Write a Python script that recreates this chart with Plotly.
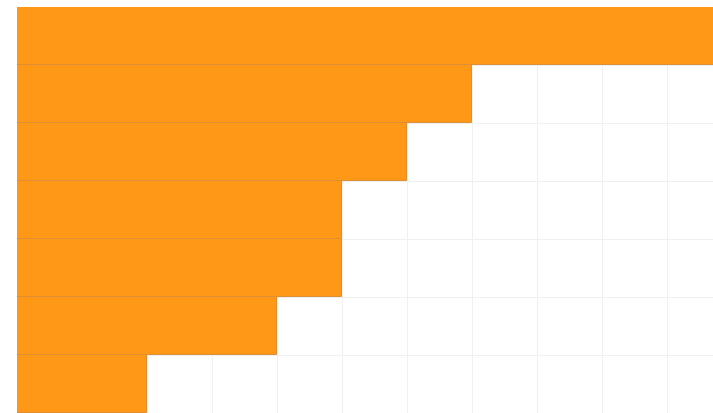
import plotly.graph_objects as go

categories = ["A", "B", "C", "D", "E", "F", "G"]
values = [12, 7, 6, 5, 5, 4, 2]

positions = list(range(len(categories)))

fig = go.Figure(
    go.Bar(
        x=values,
        y=positions,
        orientation="h",
        width=1,
        marker=dict(color="rgb(255,152,22)", line=dict(color="rgb(222,142,52)", width=1)),
        hoverinfo="x",
    )
)

fig.update_layout(
    width=713,
    height=413,
    margin=dict(l=17, r=0, t=7, b=0),
    paper_bgcolor="white",
    plot_bgcolor="white",
    bargap=0,
    showlegend=False,
    xaxis=dict(
        range=[0, 10.7],
        dtick=1,
        tick0=0,
        showgrid=True,
        gridcolor="rgb(240,240,240)",
        gridwidth=1,
        zeroline=False,
        showticklabels=False,
        ticks="",
        showline=False,
    ),
    yaxis=dict(
        range=[len(categories) - 0.5, -0.5],
        tick0=0.5,
        dtick=1,
        showgrid=True,
        gridcolor="rgb(240,240,240)",
        gridwidth=1,
        zeroline=False,
        showticklabels=False,
        ticks="",
        showline=False,
    ),
)

fig.write_html(
    "out.html",
    config={"displayModeBar": False},
    post_script="document.body.style.margin='0';document.body.style.overflow='hidden';",
)
